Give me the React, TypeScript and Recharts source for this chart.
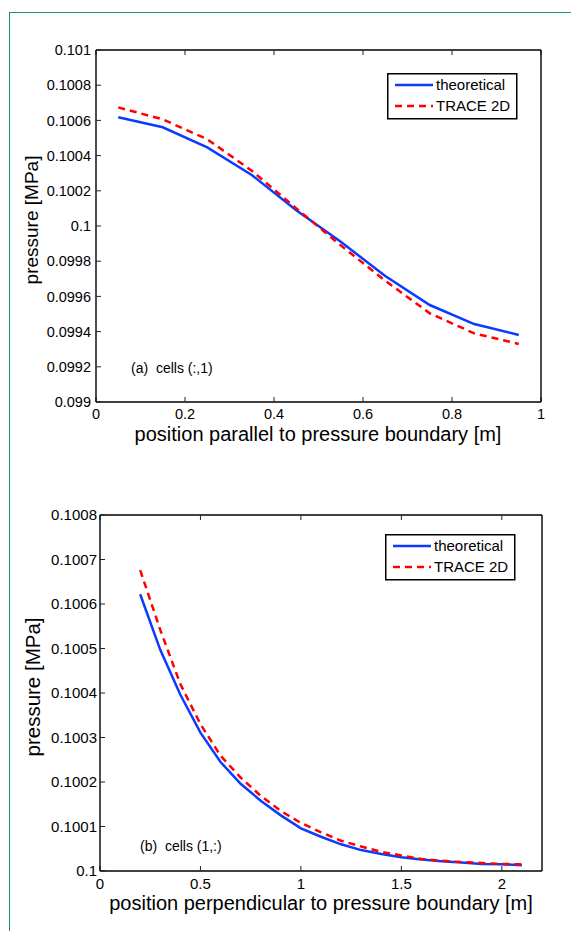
import React from 'react';
import { LineChart, Line, XAxis, YAxis, Legend } from 'recharts';

// (a) cells (:,1) — pressure along the boundary
const xParallel = [0.05, 0.15, 0.25, 0.35, 0.45, 0.55, 0.65, 0.75, 0.85, 0.95];
const theoParallel = [0.100618, 0.100561, 0.100447, 0.10029, 0.10009, 0.09991, 0.099716, 0.099551, 0.099443, 0.099381];
const traceParallel = [0.100674, 0.100606, 0.100493, 0.100314, 0.1001, 0.09989, 0.099689, 0.099504, 0.09939, 0.09933];

// (b) cells (1,:) — pressure away from the boundary
const xPerp = [0.2, 0.3, 0.4, 0.5, 0.6, 0.7, 0.8, 0.9, 1.0, 1.1, 1.2, 1.3, 1.4, 1.5, 1.6, 1.7, 1.8, 1.9, 2.0, 2.1];
const theoPerp = [
  0.100622, 0.100497, 0.100396, 0.100311, 0.100245, 0.100196, 0.100158, 0.100125, 0.100096, 0.100077,
  0.10006, 0.100047, 0.100038, 0.100031, 0.100026, 0.100022, 0.100019, 0.100016, 0.100015, 0.100013,
];
const tracePerp = [
  0.100676, 0.100542, 0.10042, 0.10033, 0.100259, 0.10021, 0.100169, 0.100135, 0.100108, 0.100087,
  0.100068, 0.100055, 0.100043, 0.100035, 0.100027, 0.100023, 0.10002, 0.100018, 0.100016, 0.100015,
];

const xTicksA = [0, 0.2, 0.4, 0.6, 0.8, 1];
const yTicksA = [0.099, 0.0992, 0.0994, 0.0996, 0.0998, 0.1, 0.1002, 0.1004, 0.1006, 0.1008, 0.101];
const xTicksB = [0, 0.5, 1, 1.5, 2];
const yTicksB = [0.1, 0.1001, 0.1002, 0.1003, 0.1004, 0.1005, 0.1006, 0.1007, 0.1008];

const seriesNames = ['theoretical', 'TRACE 2D'];

const BLUE = '#0a3cff';
const RED = '#ff0000';
const DASH = '7 5';
const FONT = '"Liberation Sans", Arial, Helvetica, sans-serif';

const dataA = xParallel.map((x, i) => ({ x, theo: theoParallel[i], trace: traceParallel[i] }));
const dataB = xPerp.map((x, i) => ({ x, theo: theoPerp[i], trace: tracePerp[i] }));

const blank = () => '';

function LegendBox(props: any) {
  // keep the plotting order, not the alphabetical one
  const payload = [...(props?.payload ?? [])].sort(
    (a: any, b: any) => seriesNames.indexOf(a.value) - seriesNames.indexOf(b.value)
  );
  return (
    <svg width={131} height={47} style={{ display: 'block', overflow: 'visible' }}>
      <rect x={0.75} y={0.75} width={129} height={45} fill="#fff" stroke="#000" strokeWidth={1.5} />
      {payload.map((entry: any, i: number) => {
        const dashed = entry?.payload?.strokeDasharray;
        const cy = 12 + i * 21;
        return (
          <g key={entry.value}>
            <line x1={8} x2={46} y1={cy} y2={cy} stroke={entry.color} strokeWidth={2.5} strokeDasharray={dashed} />
            <text x={49} y={cy + 5} fontSize={15} fill="#000" fontFamily={FONT}>
              {entry.value}
            </text>
          </g>
        );
      })}
    </svg>
  );
}

interface PanelProps {
  data: { x: number; theo: number; trace: number }[];
  xTicks: number[];
  yTicks: number[];
  xDomain: [number, number];
  yDomain: [number, number];
  height: number;
  left: number;
  right: number;
  bottom: number;
  tickFont: number;
  xTickMargin: number;
  yTickMargin: number;
  legendPos: { left: number; top: number };
  xTitle: string;
  xTitlePos: [number, number];
  yTitlePos: [number, number];
  yTitleSize: number;
  note: string;
  notePos: [number, number];
}

function Panel(p: PanelProps) {
  const axisLine = { stroke: '#000', strokeWidth: 1.4 };
  const tickLine = { stroke: '#222', strokeWidth: 1 };
  const tick = { fill: '#000', fontSize: p.tickFont };
  return (
    <LineChart width={571} height={p.height} data={p.data} margin={{ top: 0, right: 0, left: 0, bottom: 0 }}>
      <XAxis
        xAxisId="bottom"
        dataKey="x"
        type="number"
        domain={p.xDomain}
        ticks={p.xTicks}
        height={p.bottom}
        tickSize={-5}
        tickMargin={p.xTickMargin}
        axisLine={axisLine}
        tickLine={tickLine}
        tick={tick}
        interval={0}
      />
      <XAxis
        xAxisId="top"
        orientation="top"
        dataKey="x"
        type="number"
        domain={p.xDomain}
        ticks={p.xTicks}
        height={50}
        tickSize={-5}
        tickFormatter={blank}
        axisLine={axisLine}
        tickLine={tickLine}
        interval={0}
      />
      <YAxis
        yAxisId="left"
        type="number"
        domain={p.yDomain}
        ticks={p.yTicks}
        width={p.left}
        tickSize={-5}
        tickMargin={p.yTickMargin}
        axisLine={axisLine}
        tickLine={tickLine}
        tick={tick}
        interval={0}
      />
      <YAxis
        yAxisId="right"
        orientation="right"
        type="number"
        domain={p.yDomain}
        ticks={p.yTicks}
        width={p.right}
        tickSize={-5}
        tickFormatter={blank}
        axisLine={axisLine}
        tickLine={tickLine}
        interval={0}
      />
      <Legend
        layout="horizontal"
        verticalAlign="middle"
        align="center"
        content={<LegendBox />}
        wrapperStyle={{ left: p.legendPos.left, top: p.legendPos.top, width: 131, height: 47 }}
      />
      <Line
        xAxisId="bottom"
        yAxisId="left"
        dataKey="theo"
        name={seriesNames[0]}
        type="linear"
        stroke={BLUE}
        strokeWidth={2.5}
        dot={false}
        isAnimationActive={false}
      />
      <Line
        xAxisId="bottom"
        yAxisId="left"
        dataKey="trace"
        name={seriesNames[1]}
        type="linear"
        stroke={RED}
        strokeWidth={2.5}
        strokeDasharray={DASH}
        dot={false}
        isAnimationActive={false}
      />
      <text x={p.xTitlePos[0]} y={p.xTitlePos[1]} textAnchor="middle" fontSize={20} fill="#000" fontFamily={FONT}>
        {p.xTitle}
      </text>
      <text
        transform={`translate(${p.yTitlePos[0]},${p.yTitlePos[1]}) rotate(-90)`}
        textAnchor="middle"
        fontSize={p.yTitleSize}
        fill="#000"
        fontFamily={FONT}
      >
        pressure [MPa]
      </text>
      <text x={p.notePos[0]} y={p.notePos[1]} fontSize={14} fill="#000" fontFamily={FONT} style={{ whiteSpace: 'pre' }}>
        {p.note}
      </text>
    </LineChart>
  );
}

export default function App() {
  return (
    <div
      style={{
        position: 'absolute',
        left: 0,
        top: 0,
        width: 571,
        height: 931,
        background: '#fff',
        fontFamily: FONT,
        overflow: 'hidden',
      }}
    >
      <div
        style={{
          position: 'absolute',
          left: 9,
          top: 12,
          right: 0,
          bottom: 0,
          borderTop: '1.5px solid #17907f',
          borderLeft: '1.5px solid #17907f',
        }}
      />
      <div style={{ position: 'absolute', left: 0, top: 0 }}>
        <Panel
          data={dataA}
          xTicks={xTicksA}
          yTicks={yTicksA}
          xDomain={[0, 1]}
          yDomain={[0.099, 0.101]}
          height={460}
          left={96}
          right={30}
          bottom={58}
          tickFont={14.5}
          xTickMargin={12}
          yTickMargin={10}
          legendPos={{ left: 387, top: 73 }}
          xTitle="position parallel to pressure boundary [m]"
          xTitlePos={[318, 441]}
          yTitlePos={[38, 220]}
          yTitleSize={19}
          note="(a)  cells (:,1)"
          notePos={[131, 373]}
        />
      </div>
      <div style={{ position: 'absolute', left: 0, top: 465 }}>
        <Panel
          data={dataB}
          xTicks={xTicksB}
          yTicks={yTicksB}
          xDomain={[0, 2.2]}
          yDomain={[0.1, 0.1008]}
          height={466}
          left={100}
          right={29}
          bottom={60}
          tickFont={15}
          xTickMargin={12}
          yTickMargin={8}
          legendPos={{ left: 385, top: 534 - 465 }}
          xTitle="position perpendicular to pressure boundary [m]"
          xTitlePos={[321, 910 - 465]}
          yTitlePos={[40, 687 - 465]}
          yTitleSize={20.5}
          note="(b)  cells (1,:)"
          notePos={[140, 851 - 465]}
        />
      </div>
    </div>
  );
}
